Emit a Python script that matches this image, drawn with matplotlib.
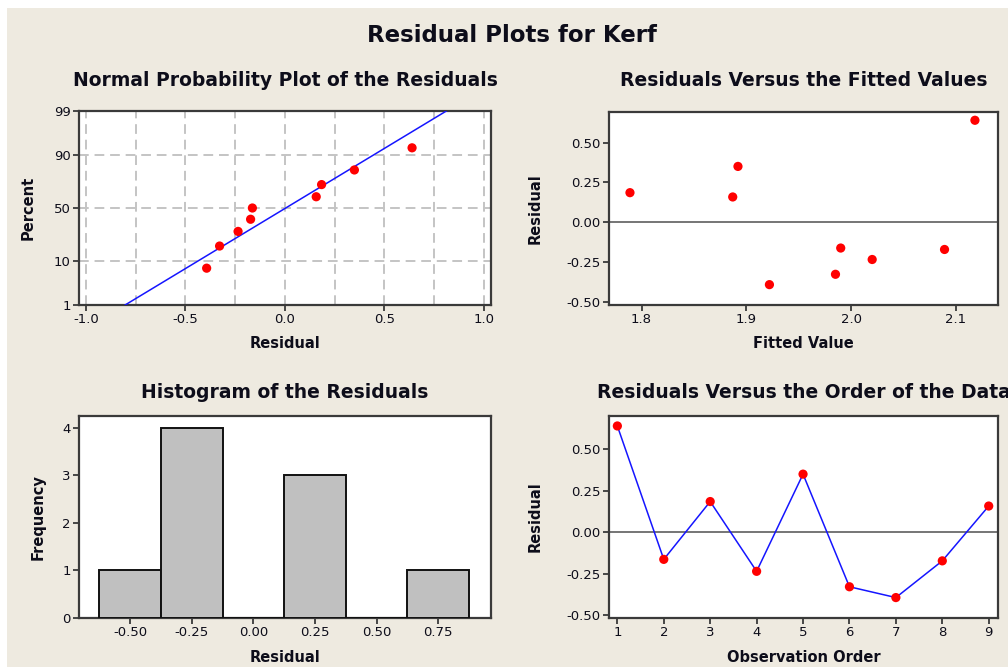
from statistics import NormalDist

import matplotlib
matplotlib.use("Agg")
import matplotlib.pyplot as plt
from matplotlib.patches import Rectangle
from matplotlib.ticker import FixedLocator, MultipleLocator, FormatStrFormatter
import numpy as np

# data
# ==========================================
order     = [1, 2, 3, 4, 5, 6, 7, 8, 9]
residuals = [0.64, -0.163, 0.185, -0.235, 0.35, -0.328, -0.393, -0.172, 0.158]
fitted    = [2.118, 1.990, 1.789, 2.020, 1.892, 1.985, 1.922, 2.089, 1.887]
hist_bins = [-0.625, -0.375, -0.125, 0.125, 0.375, 0.625, 0.875]
pct_ticks = [1, 10, 50, 90, 99]

# style
# =====
W, H     = 1008, 667
BEIGE    = "#EEEAE0"
SPINE    = "#3a3a3a"
TXT      = "#0d0d1a"
RED      = "#FF0000"
BLUE     = "#1515FF"
plt.rcParams["font.family"] = ["DejaVu Sans"]

fig = plt.figure(figsize=(W / 100, H / 100), dpi=100, facecolor="white")
fig.patches.append(Rectangle((7 / W, 0), 1, 1 - 8 / H, transform=fig.transFigure,
                             facecolor=BEIGE, edgecolor="none", zorder=-10))


def px_axes(x0, y0, x1, y1):
    """Axes from pixel box (top-left origin)."""
    ax = fig.add_axes([x0 / W, 1 - y1 / H, (x1 - x0) / W, (y1 - y0) / H])
    ax.set_facecolor("white")
    for side in ("top", "right", "left", "bottom"):
        ax.spines[side].set_color(SPINE)
        ax.spines[side].set_linewidth(1.6)
    ax.tick_params(direction="out", length=4, width=1.3, color=SPINE,
                   labelsize=9.5, labelcolor=TXT, pad=2)
    ax._box = (x0, y0, x1, y1)
    return ax


def label(ax, title, xlabel, ylabel, title_y, xlabel_y, ylabel_x):
    x0, y0, x1, y1 = ax._box
    h, w = y1 - y0, x1 - x0
    ax.set_title(title, fontsize=13.5, fontweight="bold", color=TXT,
                 y=(y1 - title_y) / h, va="center", pad=0)
    ax.set_xlabel(xlabel, fontsize=10.5, fontweight="bold", color=TXT)
    ax.xaxis.set_label_coords(0.5, (y1 - xlabel_y) / h)
    ax.xaxis.label.set_va("center")
    ax.set_ylabel(ylabel, fontsize=10.5, fontweight="bold", color=TXT)
    ax.yaxis.set_label_coords((ylabel_x - x0) / w, 0.5)
    ax.yaxis.label.set_va("center")


fig.text(512 / W, 1 - 35 / H, "Residual Plots for Kerf", ha="center",
         va="center", fontsize=16.5, fontweight="bold", color=TXT)

# normal probability plot
# =======================
nd  = NormalDist()
fwd = np.vectorize(lambda p: nd.inv_cdf(min(max(p, 1e-6), 100 - 1e-6) / 100),
                   otypes=[float])
inv = np.vectorize(lambda z: nd.cdf(z) * 100, otypes=[float])

res_sorted = np.sort(residuals)
n          = len(res_sorted)
pct        = (np.arange(1, n + 1) - 0.3) / (n + 0.4) * 100
mu, sd     = np.mean(residuals), np.std(residuals, ddof=1)
z_line     = np.array([nd.inv_cdf(0.01), nd.inv_cdf(0.99)])

ax1 = px_axes(79, 111, 491, 305)
ax1.set_yscale("function", functions=(fwd, inv))
ax1.set_xlim(-1.035, 1.037)
ax1.set_ylim(1, 99)
ax1.yaxis.set_major_locator(FixedLocator(pct_ticks))
ax1.yaxis.set_major_formatter(FormatStrFormatter("%d"))
ax1.yaxis.set_minor_locator(FixedLocator([]))
ax1.xaxis.set_major_locator(MultipleLocator(0.5))
ax1.xaxis.set_minor_locator(MultipleLocator(0.25))
ax1.xaxis.set_major_formatter(FormatStrFormatter("%.1f"))
ax1.tick_params(which="minor", length=0)
ax1.grid(True, which="both", axis="x", color="#c4c4c4", lw=1.4, ls=(0, (5, 3)))
ax1.grid(True, which="major", axis="y", color="#c4c4c4", lw=1.4, ls=(0, (5, 3)))
ax1.plot(mu + sd * z_line, [1, 99], color=BLUE, lw=1.1, zorder=3)
ax1.scatter(res_sorted, pct, s=44, color=RED, zorder=4, edgecolor="none")
label(ax1, "Normal Probability Plot of the Residuals", "Residual", "Percent",
      80, 343, 28)

# residuals vs fitted
# ===================
ax2 = px_axes(609, 112, 998, 305)
ax2.set_xlim(1.769, 2.140)
ax2.set_ylim(-0.521, 0.692)
ax2.xaxis.set_major_locator(MultipleLocator(0.1))
ax2.xaxis.set_major_formatter(FormatStrFormatter("%.1f"))
ax2.yaxis.set_major_locator(MultipleLocator(0.25))
ax2.yaxis.set_major_formatter(FormatStrFormatter("%.2f"))
ax2.axhline(0, color="#505050", lw=1.1, zorder=2)
ax2.scatter(fitted, residuals, s=44, color=RED, zorder=4, edgecolor="none")
label(ax2, "Residuals Versus the Fitted Values", "Fitted Value", "Residual",
      80, 343, 535)

# histogram
# =========
ax3 = px_axes(79, 416, 491, 618)
ax3.hist(residuals, bins=hist_bins, color="#C0C0C0", edgecolor="#111111",
         linewidth=1.4, zorder=3)
ax3.set_xlim(-0.708, 0.964)
ax3.set_ylim(0, 4.245)
ax3.xaxis.set_major_locator(MultipleLocator(0.25))
ax3.xaxis.set_major_formatter(FormatStrFormatter("%.2f"))
ax3.yaxis.set_major_locator(MultipleLocator(1))
label(ax3, "Histogram of the Residuals", "Residual", "Frequency",
      393, 657, 38)

# residuals vs order
# ==================
ax4 = px_axes(609, 416, 998, 618)
ax4.set_xlim(0.82, 9.2)
ax4.set_ylim(-0.516, 0.70)
ax4.xaxis.set_major_locator(FixedLocator(order))
ax4.yaxis.set_major_locator(MultipleLocator(0.25))
ax4.yaxis.set_major_formatter(FormatStrFormatter("%.2f"))
ax4.axhline(0, color="#505050", lw=1.1, zorder=2)
ax4.plot(order, residuals, color=BLUE, lw=1.1, zorder=3)
ax4.scatter(order, residuals, s=44, color=RED, zorder=4, edgecolor="none")
label(ax4, "Residuals Versus the Order of the Data", "Observation Order",
      "Residual", 393, 657, 535)

fig.savefig("out.png", dpi=100, facecolor=fig.get_facecolor())
